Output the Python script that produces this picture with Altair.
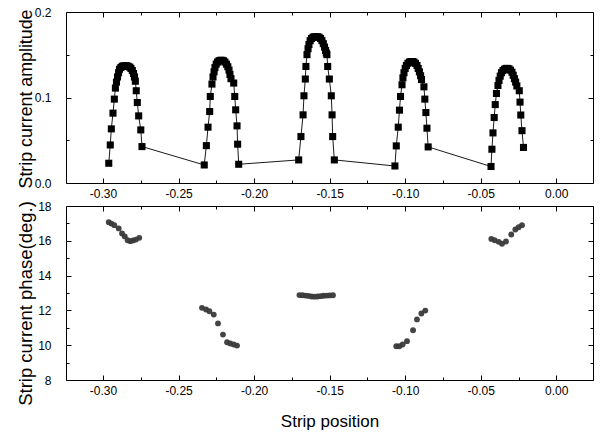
import altair as alt
import pandas as pd

# ---------------- data ----------------
# Top panel: strip current amplitude vs strip position
amp_x = [
    -0.2962, -0.2952, -0.2945, -0.2934, -0.2925, -0.2918,
    -0.2911, -0.2904, -0.2897, -0.2891, -0.2882, -0.2873, -0.2863, -0.2853,
    -0.2843, -0.2833, -0.2823, -0.2815, -0.2806, -0.2798, -0.2792, -0.2786,
    -0.2780, -0.2773, -0.2764, -0.2750, -0.2742,
    -0.2330, -0.2316, -0.2305, -0.2294, -0.2290, -0.2279,
    -0.2272, -0.2265, -0.2259, -0.2251, -0.2242, -0.2232, -0.2222, -0.2212,
    -0.2203, -0.2193, -0.2183, -0.2174, -0.2166, -0.2160, -0.2153,
    -0.2135, -0.2128, -0.2122, -0.2113, -0.2109, -0.2102,
    -0.1705, -0.1690, -0.1676, -0.1670, -0.1661, -0.1657, -0.1650,
    -0.1643, -0.1637, -0.1629, -0.1620, -0.1610, -0.1600, -0.1590, -0.1580,
    -0.1570, -0.1560, -0.1551, -0.1542, -0.1534, -0.1527, -0.1522,
    -0.1518, -0.1513, -0.1502, -0.1489, -0.1484, -0.1480, -0.1469,
    -0.1068, -0.1059, -0.1046, -0.1038, -0.1031, -0.1021,
    -0.1015, -0.1008, -0.1000, -0.0992, -0.0982, -0.0972, -0.0962, -0.0952,
    -0.0942, -0.0932, -0.0922, -0.0914, -0.0906, -0.0898, -0.0892,
    -0.0876, -0.0870, -0.0863, -0.0856, -0.0848,
    -0.0432, -0.0426, -0.0419, -0.0411, -0.0404, -0.0396,
    -0.0386, -0.0379, -0.0371, -0.0363, -0.0353, -0.0343, -0.0333, -0.0323,
    -0.0313, -0.0303, -0.0293, -0.0285, -0.0277, -0.0269, -0.0261,
    -0.0245, -0.0240, -0.0235, -0.0227, -0.0217,
]
amp_y = [
    0.0231, 0.0445, 0.0633, 0.0817, 0.0981, 0.1110,
    0.118, 0.124, 0.129, 0.133, 0.135, 0.1365, 0.137, 0.137,
    0.137, 0.1365, 0.1355, 0.134, 0.1315, 0.128, 0.124, 0.119,
    0.1079, 0.0941, 0.0785, 0.0621, 0.0426,
    0.0211, 0.0437, 0.0653, 0.0836, 0.1012, 0.1157,
    0.124, 0.130, 0.135, 0.139, 0.1415, 0.143, 0.1435, 0.1435,
    0.143, 0.1415, 0.139, 0.136, 0.132, 0.127, 0.122,
    0.1169, 0.1012, 0.0856, 0.0668, 0.0454, 0.0219,
    0.0270, 0.0543, 0.0797, 0.1020, 0.1216, 0.1363, 0.1501,
    0.157, 0.162, 0.1665, 0.169, 0.1705, 0.171, 0.171, 0.171,
    0.1705, 0.169, 0.1665, 0.163, 0.159, 0.155, 0.152,
    0.1501, 0.1363, 0.1216, 0.1020, 0.0797, 0.0543, 0.0270,
    0.0199, 0.0434, 0.0653, 0.0852, 0.1012, 0.1149,
    0.123, 0.129, 0.134, 0.1375, 0.140, 0.1415, 0.142, 0.142,
    0.1415, 0.140, 0.1375, 0.134, 0.130, 0.1255, 0.121,
    0.1125, 0.0981, 0.0824, 0.0641, 0.0422,
    0.0193, 0.0395, 0.0586, 0.0766, 0.0917, 0.1047,
    0.114, 0.120, 0.125, 0.129, 0.1315, 0.133, 0.134, 0.134,
    0.1335, 0.132, 0.1295, 0.126, 0.122, 0.118, 0.1135,
    0.1079, 0.0946, 0.0795, 0.0612, 0.0416,
]

# Bottom panel: strip current phase (deg.) vs strip position
phase_x = [
    -0.2962, -0.2945, -0.2925, -0.2896, -0.2874, -0.2856, -0.2837, -0.2819,
    -0.2801, -0.2782, -0.2760,
    -0.2345, -0.2318, -0.2296, -0.2267, -0.2239, -0.2206, -0.2179, -0.2158,
    -0.2135, -0.2113,
    -0.1700, -0.1680, -0.1660, -0.1640, -0.1620, -0.1600, -0.1580, -0.1560,
    -0.1540, -0.1520, -0.1500, -0.1478,
    -0.1059, -0.1039, -0.1017, -0.0988, -0.0948, -0.0922, -0.0893, -0.0867,
    -0.0430, -0.0408, -0.0381, -0.0359, -0.0333, -0.0298, -0.0271, -0.0249,
    -0.0227,
]
phase_y = [
    17.07, 16.99, 16.90, 16.71, 16.42, 16.25, 16.03, 15.98, 16.02, 16.07, 16.17,
    12.15, 12.05, 11.95, 11.76, 11.25, 10.61, 10.17, 10.10, 10.04, 9.98,
    12.88, 12.87, 12.85, 12.83, 12.80, 12.79, 12.80, 12.82, 12.84, 12.85,
    12.86, 12.87,
    9.94, 9.94, 10.04, 10.23, 10.86, 11.48, 11.82, 11.99,
    16.11, 16.03, 15.94, 15.83, 15.96, 16.36, 16.65, 16.78, 16.90,
]

x_major = [-0.30, -0.25, -0.20, -0.15, -0.10, -0.05, 0.00]
x_minor = [-0.275, -0.225, -0.175, -0.125, -0.075, -0.025]
amp_major = [0.0, 0.1, 0.2]
amp_minor = [0.05, 0.15]
phase_major = [8, 10, 12, 14, 16, 18]
phase_minor = [9, 11, 13, 15, 17]

X_DOMAIN = [-0.3245, 0.0243]
AMP_DOMAIN = [0.0, 0.2]
PHASE_DOMAIN = [8, 18]

FONT = "Liberation Sans"
W = 527
H_TOP = 171
H_BOT = 174

amp_df = pd.DataFrame({"x": amp_x, "y": amp_y})
ph_df = pd.DataFrame({"x": phase_x, "y": phase_y})

XLABEL = "datum.value < 0 ? '-' + format(-datum.value, '.2f') : format(datum.value, '.2f')"


def guide_axis(orient, values, major, label_expr=None, title=None,
               title_size=17, **extra):
    size = 5 if major else 3
    args = dict(orient=orient, values=values, tickSize=size, offset=-size,
                domain=False, grid=False, ticks=True, tickColor="black",
                tickWidth=1, labels=label_expr is not None)
    if label_expr is not None:
        args.update(labelExpr=label_expr, labelFont=FONT, labelFontSize=12,
                    labelColor="black")
    if title is not None:
        args.update(title=title, titleFont=FONT, titleFontSize=title_size,
                    titleFontWeight="normal", titleColor="black")
    else:
        args["title"] = None
    args.update(extra)
    return alt.Axis(**args)


def panel(df, ydom, ymaj, ymin, ylabel_expr, ytitle, ytitle_size, ytitle_y,
          marks, xtitle, height):
    xs = alt.Scale(domain=X_DOMAIN, nice=False, zero=False)
    ys = alt.Scale(domain=ydom, nice=False, zero=False)
    base = alt.Chart(df)
    layers = []
    xextra = dict(labelPadding=5)
    if xtitle is not None:
        xextra.update(titlePadding=17)
    main_x = guide_axis("bottom", x_major, True, XLABEL, xtitle, 17, **xextra)
    main_y = guide_axis("left", ymaj, True, ylabel_expr, ytitle, ytitle_size,
                        labelPadding=15, titleX=-36, titleY=ytitle_y)
    for i, mk in enumerate(marks):
        layers.append(mk(base).encode(
            x=alt.X("x:Q", scale=xs, axis=main_x if i == 0 else None),
            y=alt.Y("y:Q", scale=ys, axis=main_y if i == 0 else None)))
    for xo, xv, yo, yv, major in [("top", x_major, "right", ymaj, True),
                                  ("bottom", x_minor, "left", ymin, False),
                                  ("top", x_minor, "right", ymin, False)]:
        layers.append(base.mark_point(opacity=0).encode(
            x=alt.X("x:Q", scale=xs, axis=guide_axis(xo, xv, major)),
            y=alt.Y("y:Q", scale=ys, axis=guide_axis(yo, yv, major))))
    return alt.layer(*layers).resolve_axis(x="independent", y="independent") \
        .properties(width=W, height=height)


top = panel(
    amp_df, AMP_DOMAIN, amp_major, amp_minor, "format(datum.value, '.1f')",
    "Strip current amplitude", 17.8, H_TOP / 2 + 1,
    [lambda b: b.mark_line(color="black", strokeWidth=0.9),
     lambda b: b.mark_point(shape="square", filled=True, size=50,
                            color="black", opacity=1)],
    None, H_TOP)

bottom = panel(
    ph_df, PHASE_DOMAIN, phase_major, phase_minor, "format(datum.value, 'd')",
    "Strip current phase(deg.)", 18.5, H_BOT / 2 + 10,
    [lambda b: b.mark_point(shape="circle", filled=True, size=34,
                            color="#3a3a3a", opacity=0.95)],
    "Strip position", H_BOT)

chart = alt.vconcat(top, bottom, spacing=23, bounds="flush").properties(
    padding={"left": 15, "top": 5, "right": 5, "bottom": 5},
    background="white",
).configure_view(stroke="black", strokeWidth=1)

chart.save("out.html", embed_options={"renderer": "svg", "actions": False})
